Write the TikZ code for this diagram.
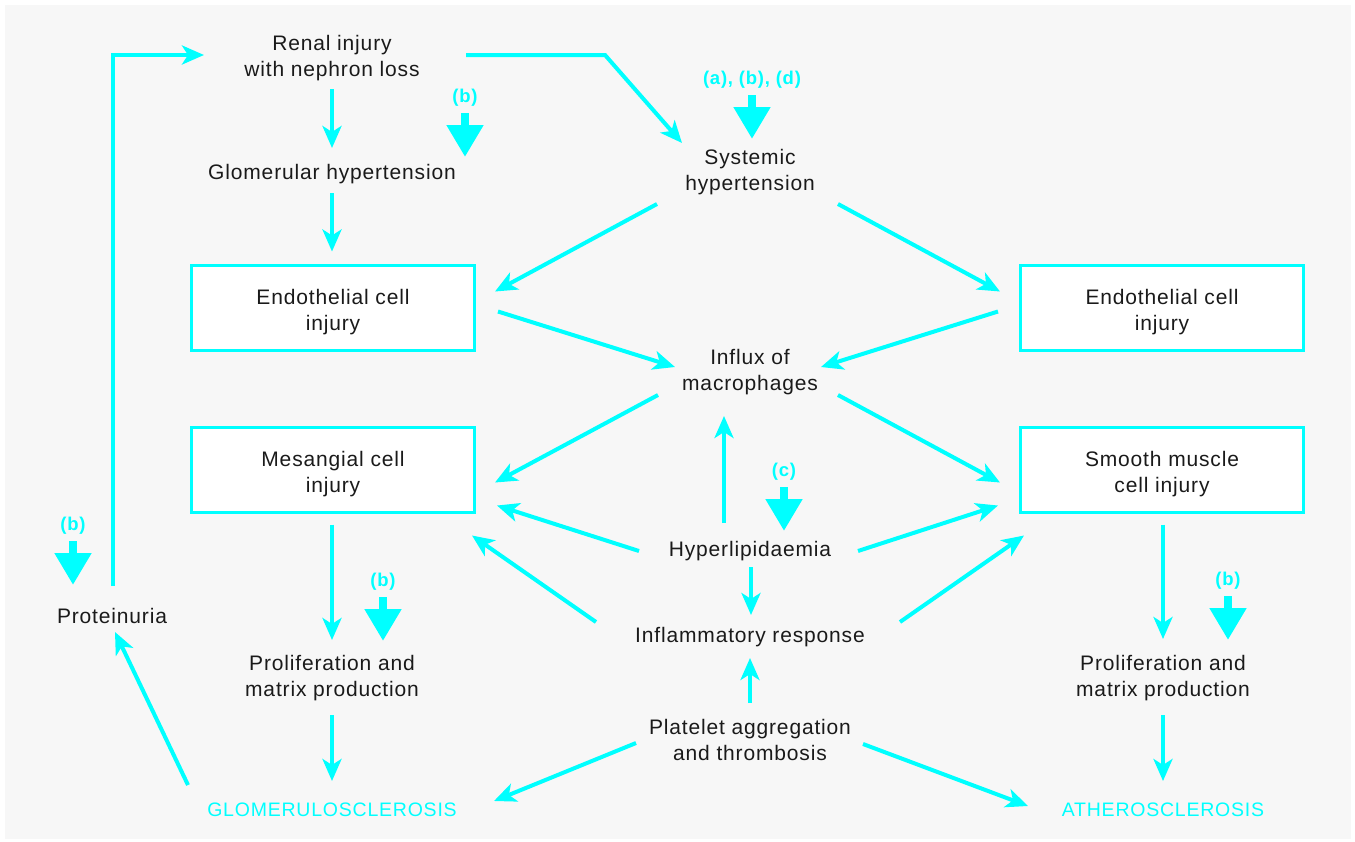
\documentclass[tikz,border=0pt]{standalone}
\usepackage{fontspec}
\setmainfont{Liberation Sans}[LetterSpace=4]
\usetikzlibrary{arrows.meta,calc}
\definecolor{cyanline}{HTML}{00FFFF}
\definecolor{panelgray}{HTML}{F7F7F7}
\definecolor{inkgray}{HTML}{1A1A1A}
\newcommand{\boxstrut}{\rule{0pt}{24pt}}

\begin{document}
\begin{tikzpicture}[x=1pt,y=-1pt]

    \tikzstyle{txt} = [align=center, text=inkgray, font=\fontsize{21}{26}\selectfont]
    \tikzstyle{cellbox} = [txt, draw=cyanline, line width=3pt, fill=white, minimum width=283pt, minimum height=85pt]
    \tikzstyle{endpt} = [align=center, text=cyanline, font=\fontsize{19.5}{24}\selectfont]
    \tikzstyle{keylabel} = [text=cyanline, font=\fontsize{18.5}{22}\selectfont\bfseries]
    \tikzstyle{arr} = [draw=cyanline, line width=4pt, -{Stealth[length=22pt,width=19pt,inset=6pt]}]
    \tikzstyle{bigarr} = [draw=cyanline, line width=8pt, -{Triangle[length=32pt,width=35pt]}]

    % Background
    \useasboundingbox (0,0) rectangle (1355,841);
    \fill[panelgray] (5,5) rectangle (1351,839);

    % Nodes
    \node[txt] at (332,58) (renal) {Renal injury\\with nephron loss};
    \node[txt] at (332,174) (glom) {Glomerular hypertension};
    \node[txt] at (750,172) (sys) {Systemic\\hypertension};
    \node[cellbox] at (333,307.5) (endl) {\boxstrut Endothelial cell\\injury};
    \node[cellbox] at (1162,307.5) (endr) {\boxstrut Endothelial cell\\injury};
    \node[txt] at (750,372) (influx) {Influx of\\macrophages};
    \node[cellbox] at (333,469.5) (mesl) {\boxstrut Mesangial cell\\injury};
    \node[cellbox] at (1162,469.5) (smooth) {\boxstrut Smooth muscle\\cell injury};
    \node[txt] at (750,551) (hyper) {Hyperlipidaemia};
    \node[txt] at (750,637) (inflam) {Inflammatory response};
    \node[txt] at (750,740) (plat) {Platelet aggregation\\and thrombosis};
    \node[txt] at (332,678) (profl) {Proliferation and\\matrix production};
    \node[txt] at (1163,678) (profr) {Proliferation and\\matrix production};
    \node[txt] at (112,616) (prot) {Proteinuria};
    \node[endpt] at (332,810) (gscl) {GLOMERULOSCLEROSIS};
    \node[endpt] at (1163,810) (ascl) {ATHEROSCLEROSIS};

    % Labels
    \node[keylabel] at (465,98) (lbglom) {(b)};
    \node[keylabel] at (752,80) (lbsys) {(a), (b), (d)};
    \node[keylabel] at (784,472) (lbhyper) {(c)};
    \node[keylabel] at (73,526) (lbprot) {(b)};
    \node[keylabel] at (383,582) (lbprofl) {(b)};
    \node[keylabel] at (1228,581) (lbprofr) {(b)};

    \draw[bigarr] ($(lbglom)+(0,15)$) -- ++(0,44);
    \draw[bigarr] ($(lbsys)+(0,15)$) -- ++(0,44);
    \draw[bigarr] ($(lbhyper)+(0,15)$) -- ++(0,44);
    \draw[bigarr] ($(lbprot)+(0,15)$) -- ++(0,44);
    \draw[bigarr] ($(lbprofl)+(0,15)$) -- ++(0,44);
    \draw[bigarr] ($(lbprofr)+(0,15)$) -- ++(0,44);

    % Arrows
    \draw[arr] ($(prot)+(1,-30)$) |- ($(renal)+(-128,-3)$);
    \draw[arr] ($(renal)+(134,-3)$) -- ++(139,0) -- ($(sys)+(-68,-29)$);
    \draw[arr] ($(renal)+(0,31)$) -- ($(glom)+(0,-26)$);
    \draw[arr] ($(glom)+(0,19)$) -- ($(endl.north)+(-1,-12)$);
    \draw[arr] ($(sys)+(-93,32)$) -- ($(endl.east)+(19,-16)$);
    \draw[arr] ($(sys)+(88,32)$) -- ($(endr.west)+(-19,-16)$);
    \draw[arr] ($(endl.east)+(22,4)$) -- ($(influx)+(-75,-5)$);
    \draw[arr] ($(endr.west)+(-21,4)$) -- ($(influx)+(71,-5)$);
    \draw[arr] ($(influx)+(-92,23)$) -- ($(mesl.east)+(19,13)$);
    \draw[arr] ($(influx)+(88,23)$) -- ($(smooth.west)+(-19,13)$);
    \draw[arr] ($(hyper)+(-26,-28)$) -- ($(influx)+(-26,44)$);
    \draw[arr] ($(hyper)+(-111,0)$) -- ($(mesl.east)+(21,36)$);
    \draw[arr] ($(hyper)+(108,0)$) -- ($(smooth.west)+(-21,36)$);
    \draw[arr] ($(hyper)+(1,16)$) -- ($(inflam)+(1,-22)$);
    \draw[arr] ($(inflam)+(-154,-15)$) -- ($(mesl.south east)+(-4,22)$);
    \draw[arr] ($(inflam)+(150,-15)$) -- ($(smooth.south west)+(5,22)$);
    \draw[arr] ($(plat)+(0,-37)$) -- ($(inflam)+(0,21)$);
    \draw[arr] ($(plat)+(-114,3)$) -- ($(gscl)+(162,-9)$);
    \draw[arr] ($(plat)+(113,4)$) -- ($(ascl)+(-135,-4)$);
    \draw[arr] ($(mesl.south)+(-1,11)$) -- ($(profl)+(0,-38)$);
    \draw[arr] ($(profl)+(0,37)$) -- ($(gscl)+(0,-29)$);
    \draw[arr] ($(smooth.south)+(1,11)$) -- ($(profr)+(0,-39)$);
    \draw[arr] ($(profr)+(0,37)$) -- ($(ascl)+(0,-29)$);
    \draw[arr] ($(gscl)+(-144,-25)$) -- ($(prot)+(3,16)$);

\end{tikzpicture}
\end{document}
